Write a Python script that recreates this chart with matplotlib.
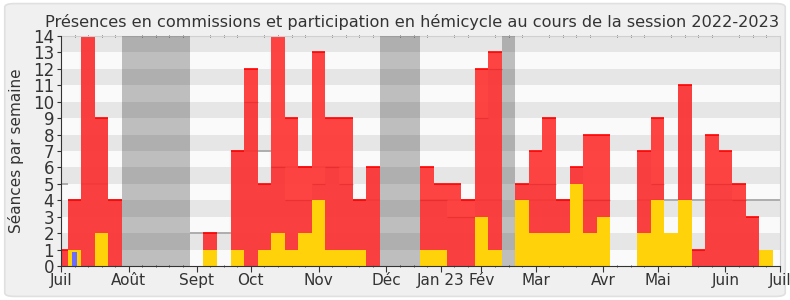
import numpy as np
import matplotlib.pyplot as plt
from matplotlib.patches import FancyBboxPatch

# one value per week, week 0 = first week of July 2022
semaines = np.arange(54)

# red: presences (total height) / darker overlap part
presences = [1, 4, 14, 9, 4, 0, 0, 0, 0, 0,
             0, 2, 0, 7, 12, 5, 14, 9, 6, 13,
             9, 9, 4, 6, 0, 0, 0, 6, 5, 5,
             4, 12, 13, 0, 5, 7, 9, 4, 6, 8,
             8, 0, 0, 7, 9, 0, 11, 1, 8, 7,
             5, 3, 0, 0]
presences_dessous = [1, 4, 14, 9, 4, 0, 0, 0, 0, 0,
                     0, 2, 0, 7, 10, 5, 6, 4, 4, 5,
                     6, 5, 4, 6, 0, 0, 0, 4, 4, 3,
                     3, 9, 12, 0, 5, 5, 5, 4, 6, 4,
                     4, 0, 0, 7, 5, 0, 11, 1, 5, 5,
                     4, 3, 0, 0]
# yellow: participation en hemicycle
participations = [0, 1, 0, 2, 0, 0, 0, 0, 0, 0,
                  0, 1, 0, 1, 0, 1, 2, 1, 2, 4,
                  1, 1, 1, 0, 0, 0, 0, 1, 1, 0,
                  0, 3, 1, 0, 4, 2, 2, 2, 5, 2,
                  3, 0, 0, 2, 4, 2, 4, 0, 0, 0,
                  0, 0, 1, 0]
# blue: interventions
interventions = [0, 0.85] + [0] * 52
# grey line: mediane
mediane = [5, 4, 5, 5, 4, 0, 0, 0, 0, 0,
           2, 2, 2, 7, 7, 7, 6, 6, 6, 6,
           6, 6, 4, 4, 0, 0, 0, 4, 4, 4,
           4, 4, 4, 0, 4, 4, 4, 4, 4, 4,
           4, 0, 0, 4, 4, 4, 4, 4, 4, 4,
           4, 4, 4, 4]
# vacances parlementaires (first week, last week)
vacances = [(5, 9), (24, 26), (33, 33)]

mois_pos = [0, 5, 10, 14, 19, 24, 28, 31, 35, 40, 44, 49, 53]
mois_noms = ["Juil", "Août", "Sept", "Oct", "Nov", "Déc", "Jan 23", "Fév",
             "Mar", "Avr", "Mai", "Juin", "Juil"]

fig = plt.figure(figsize=(7.9, 3.0), dpi=100)
fig.patch.set_facecolor("white")
fig.patches.append(FancyBboxPatch((0.006, 0.012), 0.988, 0.976,
                                  boxstyle="round,pad=0,rounding_size=0.012",
                                  transform=fig.transFigure, facecolor="#f0f0f0",
                                  edgecolor="#e0e0e0", lw=1.2, zorder=-10))
ax = fig.add_axes([0.0772, 0.1133, 0.9098, 0.7667])

# striped background
for k in range(14):
    ax.axhspan(k, k + 1, color="#e6e6e6" if k % 2 else "#fafafa", lw=0, zorder=0)

# median, horizontal pieces only
m = np.array(mediane, dtype=float)
ax.hlines(m[m > 0], semaines[m > 0] - 0.5, semaines[m > 0] + 0.5,
          color="#a8a8a8", lw=1.3, zorder=1)

# red bars
ax.bar(semaines, presences, width=1, color="#ff3535", alpha=0.93, lw=0, zorder=2)
ax.bar(semaines, presences_dessous, width=1, color="#a00000", alpha=0.05, lw=0, zorder=2.1)
for s, h, d in zip(semaines, presences, presences_dessous):
    if h > 0:
        ax.hlines(h, s - 0.5, s + 0.5, color="#ff0000", lw=1.2, zorder=2.2)
    if 0 < d < h:
        ax.hlines(d, s - 0.5, s + 0.5, color="#d82020", lw=0.9, alpha=0.4, zorder=2.2)

ax.bar(semaines, participations, width=1, color="#ffd20a", lw=0, zorder=3)
ax.bar(semaines, interventions, width=0.37, color="#6b6bff", lw=0, zorder=4)

for debut, fin in vacances:
    ax.axvspan(debut - 0.5, fin + 0.5, color="black", alpha=0.24, lw=0, zorder=5)

ax.set_xlim(0, 53)
ax.set_ylim(0, 14)
ax.set_yticks(range(15))
ax.tick_params(axis="y", labelsize=12, length=3, color="#333333", labelcolor="#333333", pad=2)
ax.set_xticks(mois_pos)
ax.set_xticklabels(mois_noms)
ax.set_xticks(range(54), minor=True)
ax.tick_params(axis="x", which="both", length=4, color="#333333", labelcolor="#333333",
               labelsize=11, pad=1)
ax.tick_params(axis="x", which="minor", top=True, direction="inout", length=2)
ax.set_ylabel("Séances par semaine", fontsize=11, color="#333333", labelpad=6)

for side in ["left", "bottom"]:
    ax.spines[side].set_color("#333333")
    ax.spines[side].set_zorder(6)
for side in ["top", "right"]:
    ax.spines[side].set_color("#d0d0d0")

fig.text(0.5215, 0.911, "Présences en commissions et participation en hémicycle au cours de la session 2022-2023",
         ha="center", va="baseline", fontsize=11.6, color="#333333")

fig.savefig("out.png", dpi=100, facecolor=fig.get_facecolor())
